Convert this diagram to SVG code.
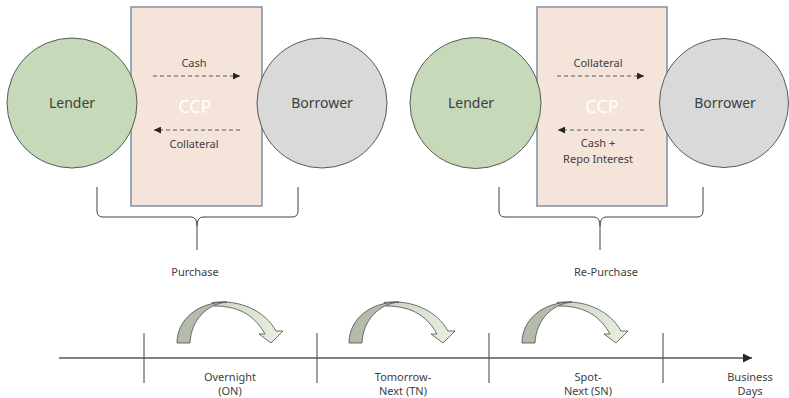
<svg xmlns="http://www.w3.org/2000/svg" width="789" height="398" viewBox="0 0 789 398">
<defs>
<style>
.lbl{font-family:"Noto Sans","Open Sans",sans-serif;fill:#404040;text-anchor:middle}
.s11{font-size:11px}
.s14{font-size:14px}
.ccp{font-family:"Noto Sans","Open Sans",sans-serif;font-size:18px;fill:#ffffff;text-anchor:middle}
.box{fill:#f4e4da;stroke:#7f8fa1;stroke-width:1.5}
.lender{fill:#c6d9b8;stroke:#595959;stroke-width:1}
.borrower{fill:#d9d9d9;stroke:#595959;stroke-width:1}
.dash{fill:none;stroke:#595959;stroke-width:1.2;stroke-dasharray:4 3}
.brace{fill:none;stroke:#404040;stroke-width:1}
.tick{fill:none;stroke:#404040;stroke-width:1}
.axis{fill:none;stroke:#595959;stroke-width:1.5}
.under{fill:#b4bbab;stroke:#4d4d4d;stroke-width:0.8}
.top{fill:url(#cg);stroke:#4d4d4d;stroke-width:0.8}
</style>
<linearGradient id="cg" x1="0" y1="0" x2="1" y2="0">
<stop offset="0" stop-color="#c9d2c0"/>
<stop offset="1" stop-color="#eaf1e2"/>
</linearGradient>
<marker id="ah" viewBox="0 0 10 10" refX="10" refY="5" markerWidth="7" markerHeight="7" markerUnits="userSpaceOnUse" orient="auto">
<path d="M0,0 L10,5 L0,10 Z" fill="#262626"/>
</marker>
<marker id="ah2" viewBox="0 0 10 10" refX="10" refY="5" markerWidth="9" markerHeight="9" markerUnits="userSpaceOnUse" orient="auto">
<path d="M0,0 L10,5 L0,10 Z" fill="#262626"/>
</marker>
<g id="curv">
<path class="top" d="M212,302.5 C240,299 265,311 276,331 L283,331 L271,343 L259,334 L265,334 C256,318 242,306 214,306 Z"/>
<path class="under" d="M177,343 C177,320 197,302 227,302 C207,304 191,320 190,343 Z"/>
</g>
</defs>

<g id="purchase-ccp"><rect class="box" x="131" y="7" width="131" height="199"/><text class="ccp" x="195" y="113">CCP</text></g>
<g id="purchase-lender"><circle class="lender" cx="72" cy="103" r="65"/><text class="lbl s14" x="72" y="108">Lender</text></g>
<g id="purchase-borrower"><circle class="borrower" cx="322" cy="103" r="65"/><text class="lbl s14" x="322" y="108">Borrower</text></g>

<g id="repurchase-ccp"><rect class="box" x="537" y="7" width="130" height="199"/><text class="ccp" x="602" y="113">CCP</text></g>
<g id="repurchase-lender"><circle class="lender" cx="475.5" cy="103" r="65.5"/><text class="lbl s14" x="471" y="108">Lender</text></g>
<g id="repurchase-borrower"><circle class="borrower" cx="724" cy="103" r="64.5"/><text class="lbl s14" x="725" y="108">Borrower</text></g>

<g id="connectors">
<line class="dash" x1="153" y1="76" x2="240" y2="76" marker-end="url(#ah)"/>
<line class="dash" x1="240" y1="130" x2="154" y2="130" marker-end="url(#ah)"/>
<line class="dash" x1="557" y1="76" x2="644" y2="76" marker-end="url(#ah)"/>
<line class="dash" x1="644" y1="130" x2="558" y2="130" marker-end="url(#ah)"/>
</g>

<g id="labels">
<text class="lbl s11" x="194" y="67">Cash</text>
<text class="lbl s11" x="194" y="148">Collateral</text>
<text class="lbl s11" x="598" y="67">Collateral</text>
<text class="lbl s11" x="598" y="147">Cash +</text>
<text class="lbl s11" x="598" y="162.5">Repo Interest</text>
<text class="lbl s11" x="195" y="276">Purchase</text>
<text class="lbl s11" x="606" y="276">Re-Purchase</text>
</g>

<g id="braces">
<path class="brace" d="M97,187 L97,211 Q97,217 103,217 L191,217 Q197,217 197,226 L197,250 M197,226 Q197,217 203,217 L292,217 Q298,217 298,211 L298,187"/>
<path class="brace" d="M499,187 L499,211 Q499,217 505,217 L594,217 Q600,217 600,226 L600,250 M600,226 Q600,217 606,217 L697,217 Q703,217 703,211 L703,187"/>
</g>

<g id="timeline">
<line class="axis" x1="59" y1="358" x2="752" y2="358" marker-end="url(#ah2)"/>
<line class="tick" x1="144" y1="333" x2="144" y2="383"/>
<line class="tick" x1="317" y1="333" x2="317" y2="383"/>
<line class="tick" x1="489" y1="333" x2="489" y2="383"/>
<line class="tick" x1="663" y1="333" x2="663" y2="383"/>
<use href="#curv"/>
<use href="#curv" x="172"/>
<use href="#curv" x="345"/>
<text class="lbl s11" x="230" y="381">Overnight</text>
<text class="lbl s11" x="230" y="395">(ON)</text>
<text class="lbl s11" x="403" y="381">Tomorrow-</text>
<text class="lbl s11" x="403" y="395">Next (TN)</text>
<text class="lbl s11" x="588" y="381">Spot-</text>
<text class="lbl s11" x="588" y="395">Next (SN)</text>
<text class="lbl s11" x="750" y="381">Business</text>
<text class="lbl s11" x="750" y="395">Days</text>
</g>
</svg>
